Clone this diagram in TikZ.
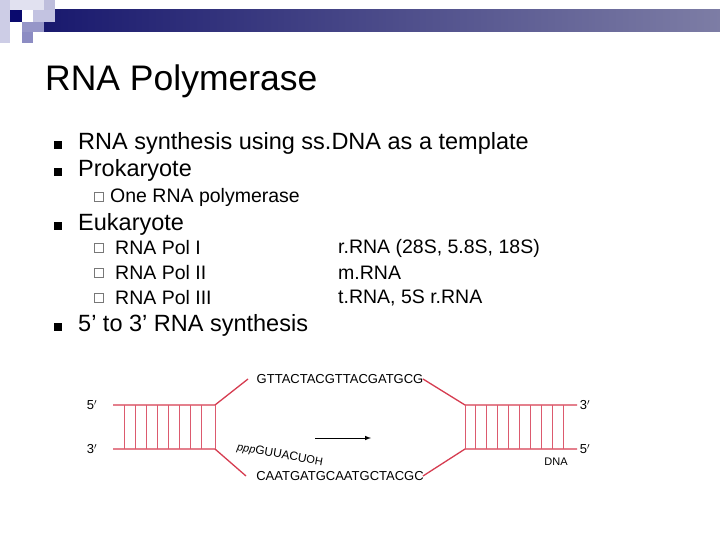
\documentclass[tikz,border=0pt]{standalone}
\usepackage{fontspec}
\setmainfont{Liberation Sans}
\definecolor{dnared}{RGB}{214,60,80}
\definecolor{rungred}{RGB}{220,90,110}
\definecolor{sqgray}{RGB}{120,120,120}
\definecolor{bandL}{RGB}{25,25,110}
\definecolor{bandR}{RGB}{125,125,165}
\definecolor{q1}{RGB}{205,205,230}
\definecolor{q2}{RGB}{225,225,240}
\definecolor{q3}{RGB}{190,190,220}
\definecolor{q4}{RGB}{10,10,110}
\definecolor{q5}{RGB}{195,195,225}
\definecolor{q6}{RGB}{150,150,200}
\definecolor{q7}{RGB}{140,140,195}
\begin{document}
\begin{tikzpicture}[x=1pt,y=-1pt,
  red/.style={draw=dnared,line width=1.3pt},
  rung/.style={draw=rungred,line width=0.8pt},
  bul/.style={fill=black,minimum size=8pt,inner sep=0pt},
  sbul/.style={draw=sqgray,minimum size=9pt,inner sep=0pt,line width=0.7pt},
  txt/.style={anchor=west,inner sep=0pt,font=\fontsize{23.5}{26}\selectfont},
  stxt/.style={anchor=west,inner sep=0pt,font=\fontsize{19.5}{22}\selectfont},
  seq/.style={inner sep=0pt,font=\fontsize{13}{15}\selectfont}]
\useasboundingbox (0,0) rectangle (720,540);
\fill[white] (0,0) rectangle (720,540);
% banner
\shade[left color=bandL,right color=bandR] (44,10) rectangle (720,32);
\fill[q1] (0,0) rectangle (10,43);
\fill[q2] (10,0) rectangle (44,10);
\fill[q3] (44,0) rectangle (55,22);
\fill[q4] (10,10) rectangle (22,22);
\fill[q5] (33,10) rectangle (55,22);
\fill[q6] (22,22) rectangle (44,32);
\fill[q7] (22,32) rectangle (33,43);
% title
\node[anchor=west,inner sep=0pt,font=\fontsize{35.5}{40}\selectfont] (title) at (45,81) {RNA Polymerase};
% bullets
\node[bul] (b1) at (58,145) {};
\node[txt] (t1) at (78,143) {RNA synthesis using ss.DNA as a template};
\node[bul] (b2) at (58,172) {};
\node[txt] (t2) at (78,170) {Prokaryote};
\node[sbul] (s1) at (99,197) {};
\node[stxt] (u1) at (110,197) {One RNA polymerase};
\node[bul] (b3) at (58,226) {};
\node[txt] (t3) at (78,224) {Eukaryote};
\node[sbul] (s2) at (99,248) {};
\node[stxt] (u2) at (115,248) {RNA Pol I};
\node[sbul] (s3) at (99,273) {};
\node[stxt] (u3) at (115,273) {RNA Pol II};
\node[sbul] (s4) at (99,298) {};
\node[stxt] (u4) at (115,298) {RNA Pol III};
\node[stxt] (r1) at (338,248) {r.RNA (28S, 5.8S, 18S)};
\node[stxt] (r2) at (338,273) {m.RNA};
\node[stxt] (r3) at (338,298) {t.RNA, 5S r.RNA};
\node[bul] (b4) at (58,327) {};
\node[txt] (t4) at (78,325) {5’ to 3’ RNA synthesis};
% DNA figure
\draw[red] (113,405) -- (215,405) -- (248,379);
\draw[red] (113,449) -- (215,449) -- (246,476);
\foreach \x in {124,135,146,157,168,179,190,201,215} \draw[rung] (\x,405) -- (\x,449);
\draw[red] (423,379) -- (465,405) -- (577,405);
\draw[red] (423,476) -- (465,449) -- (577,449);
\foreach \x in {465,475,486,497,508,519,530,541,552,563} \draw[rung] (\x,405) -- (\x,449);
\node[seq] (top) at (340,379) {GTTACTACGTTACGATGCG};
\node[seq] (bot) at (340,476) {CAATGATGCAATGCTACGC};
\node[seq,rotate=-10,font=\fontsize{12}{14}\selectfont] (rna) at (280,455) {{\fontsize{11}{12}\selectfont\itshape ppp}GUUACU{\fontsize{11}{12}\selectfont OH}};
\coordinate (a1) at (315,438); \coordinate (a2) at (371,438);
\draw[-latex,line width=1pt] (a1) -- (a2);
\node[seq] (l5) at (92,405) {5$'$};
\node[seq] (l3) at (92,449) {3$'$};
\node[seq] (r3p) at (585,405) {3$'$};
\node[seq] (r5p) at (585,449) {5$'$};
\node[seq,font=\fontsize{11}{13}\selectfont] (dna) at (556,462) {DNA};
\end{tikzpicture}
\end{document}
